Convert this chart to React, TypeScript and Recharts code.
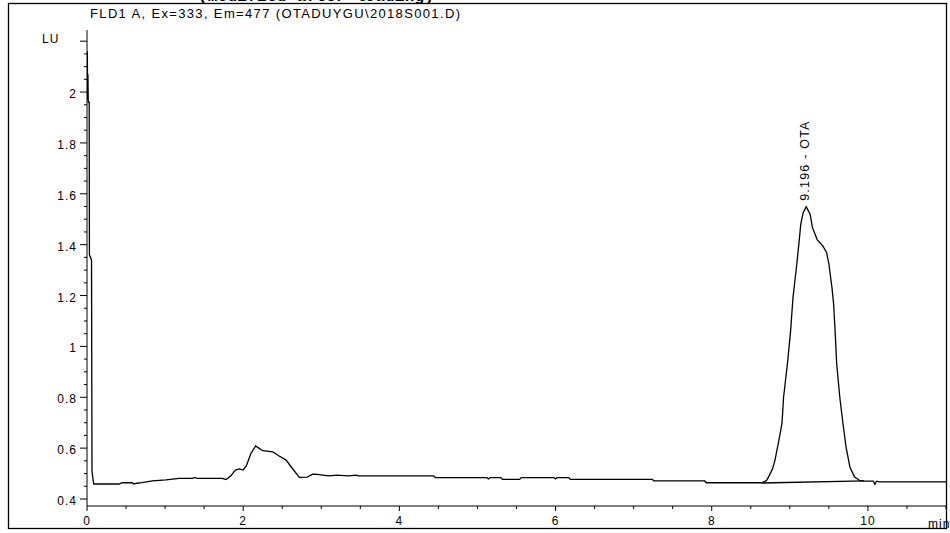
import { LineChart, Line, XAxis, YAxis, ReferenceDot } from "recharts";

const W = 950;
const H = 533;
const AXIS_X = 87; // left edge of plot (margin.left + yaxis width)
const AXIS_Y = 506; // bottom edge of plot
const FONT = "'Liberation Sans', Arial, sans-serif";

// [retention time (min), signal (LU)]
const solventSpike: [number, number][] = [
    [0.0, 1.98], [0.004, 2.16], [0.008, 1.97], [0.012, 2.07], [0.016, 1.96],
    [0.028, 1.96], [0.031, 1.36], [0.058, 1.34], [0.061, 0.9], [0.064, 0.51],
    [0.08, 0.47], [0.088, 0.459],
];

const earlyDrift: [number, number][] = [
    [0.41, 0.459], [0.45, 0.464], [0.58, 0.464], [0.6, 0.459], [0.64, 0.462],
    [0.7, 0.464], [0.84, 0.471], [1.01, 0.475], [1.18, 0.481], [1.35, 0.481],
    [1.38, 0.485], [1.41, 0.481], [1.73, 0.481], [1.78, 0.477],
];

const hump: [number, number][] = [
    [1.84, 0.49], [1.9, 0.514], [1.95, 0.518], [2.0, 0.514], [2.04, 0.53],
    [2.1, 0.58], [2.16, 0.609], [2.21, 0.598], [2.25, 0.59], [2.38, 0.585],
    [2.46, 0.569], [2.55, 0.553], [2.63, 0.52], [2.72, 0.485], [2.82, 0.486],
    [2.89, 0.498], [2.95, 0.497], [3.02, 0.494], [3.1, 0.491], [3.2, 0.494],
    [3.35, 0.491], [3.45, 0.494],
];

const flatBaseline: [number, number][] = [
    [3.47, 0.491], [4.44, 0.491], [4.46, 0.484], [5.12, 0.484], [5.14, 0.479],
    [5.16, 0.484], [5.3, 0.484], [5.32, 0.477], [5.54, 0.477], [5.56, 0.484],
    [5.98, 0.484], [6.0, 0.479], [6.02, 0.484], [6.17, 0.484], [6.19, 0.477],
    [7.24, 0.477], [7.26, 0.471], [7.91, 0.471], [7.93, 0.464], [8.6, 0.464],
];

const otaPeak: [number, number][] = [
    [8.64, 0.464], [8.7, 0.472], [8.74, 0.494], [8.78, 0.52], [8.81, 0.553],
    [8.86, 0.631], [8.9, 0.698], [8.92, 0.8], [8.97, 0.933], [9.01, 1.06],
    [9.04, 1.19], [9.09, 1.325], [9.12, 1.415], [9.14, 1.48], [9.17, 1.525],
    [9.21, 1.549], [9.26, 1.52], [9.29, 1.467], [9.35, 1.42], [9.42, 1.396],
    [9.47, 1.37], [9.5, 1.325], [9.54, 1.23], [9.56, 1.17], [9.58, 1.06],
    [9.6, 0.933], [9.64, 0.8], [9.68, 0.698], [9.72, 0.604], [9.77, 0.525],
    [9.83, 0.486], [9.9, 0.472],
];

const tail: [number, number][] = [
    [9.95, 0.47], [10.07, 0.47], [10.09, 0.458], [10.11, 0.47], [10.15, 0.467],
    [11.0, 0.467],
];

// drawn integration baseline under the OTA peak
const integrationBaseline: [number, number][] = [[8.64, 0.463], [9.95, 0.471]];

const peakLabel = { t: 9.21, v: 1.549, text: "9.196 - OTA" };

const xLabelled = [0, 2, 4, 6, 8, 10];
const xTicks = Array.from({ length: 23 }, (_, i) => i * 0.5);
const yTicks = Array.from({ length: 37 }, (_, i) => Math.round((0.4 + i * 0.05) * 100) / 100);

const toRows = (pts: [number, number][]) => pts.map(([t, v]) => ({ t, v }));
const trace = toRows([...solventSpike, ...earlyDrift, ...hump, ...flatBaseline, ...otaPeak, ...tail]);
const baselineRows = toRows(integrationBaseline);

function XTick(props: any) {
    const { x, payload } = props;
    const v = payload.value;
    const major = xLabelled.includes(v);
    return (
        <g>
            <line x1={x} x2={x} y1={AXIS_Y} y2={AXIS_Y + (major ? 5 : 3)} stroke="#000" />
            {major && (
                <text x={x} y={AXIS_Y + 19} textAnchor="middle" fontSize={12} fontFamily={FONT} fill="#000" letterSpacing={1}>
                    {String(v)}
                </text>
            )}
        </g>
    );
}

function YTick(props: any) {
    const { y, payload } = props;
    const v = payload.value;
    const major = Math.abs(v * 5 - Math.round(v * 5)) < 1e-6;
    const isTop = Math.abs(v - 2.2) < 1e-6;
    return (
        <g>
            <line x1={AXIS_X - (major ? 7 : 3)} x2={AXIS_X} y1={y} y2={y} stroke="#000" />
            {major && !isTop && (
                <text x={77} y={y + 6} textAnchor="end" fontSize={12} fontFamily={FONT} fill="#000" letterSpacing={1}>
                    {String(v)}
                </text>
            )}
            {isTop && (
                <text x={42} y={y + 2} fontSize={12} fontFamily={FONT} fill="#000" letterSpacing={1}>
                    LU
                </text>
            )}
        </g>
    );
}

function PeakText(props: any) {
    const { cx, cy } = props;
    const x = cx - 1;
    const y = cy - 6;
    return (
        <text
            x={x}
            y={y}
            transform={`rotate(-90 ${x} ${y})`}
            dominantBaseline="central"
            fontSize={12.5}
            fontFamily={FONT}
            letterSpacing={1.2}
            fill="#000"
        >
            {peakLabel.text}
        </text>
    );
}

export default function App() {
    return (
        <div style={{ position: "relative", width: W, height: H, background: "#fff" }}>
            <style>{`body{margin:0}`}</style>
            <LineChart width={W} height={H} margin={{ top: 30, right: 4, bottom: 7, left: 27 }}>
                <XAxis
                    type="number"
                    dataKey="t"
                    domain={[0, 11]}
                    ticks={xTicks}
                    interval={0}
                    allowDataOverflow
                    height={20}
                    tickLine={false}
                    tickSize={0}
                    axisLine={{ stroke: "#000" }}
                    tick={<XTick />}
                />
                <YAxis
                    type="number"
                    domain={[0.3725, 2.244]}
                    ticks={yTicks}
                    interval={0}
                    allowDataOverflow
                    width={60}
                    tickLine={false}
                    tickSize={0}
                    axisLine={{ stroke: "#000" }}
                    tick={<YTick />}
                />
                <Line
                    data={baselineRows}
                    dataKey="v"
                    type="linear"
                    stroke="#000"
                    strokeWidth={1.3}
                    dot={false}
                    isAnimationActive={false}
                />
                <Line
                    data={trace}
                    dataKey="v"
                    type="linear"
                    stroke="#000"
                    strokeWidth={1.3}
                    dot={false}
                    isAnimationActive={false}
                />
                <ReferenceDot x={peakLabel.t} y={peakLabel.v} r={0} shape={(p: any) => <PeakText {...p} />} />
            </LineChart>
            <svg width={W} height={H} style={{ position: "absolute", left: 0, top: 0, pointerEvents: "none" }}>
                <rect x={8.5} y={3.5} width={938} height={525} fill="none" stroke="#000" strokeWidth={1.3} />
                <text x={198} y={0.5} fontSize={16} fontWeight="bold" fontFamily="'Liberation Mono', monospace" textLength={236} fill="#000">
                    (modified after loading)
                </text>
                <text x={90} y={18} fontSize={13} fontFamily={FONT} textLength={370} fill="#000">
                    FLD1 A, Ex=333, Em=477 (OTADUYGU\2018S001.D)
                </text>
                <text x={928} y={528} fontSize={12} fontFamily={FONT} fill="#000" letterSpacing={1}>
                    min
                </text>
            </svg>
        </div>
    );
}
